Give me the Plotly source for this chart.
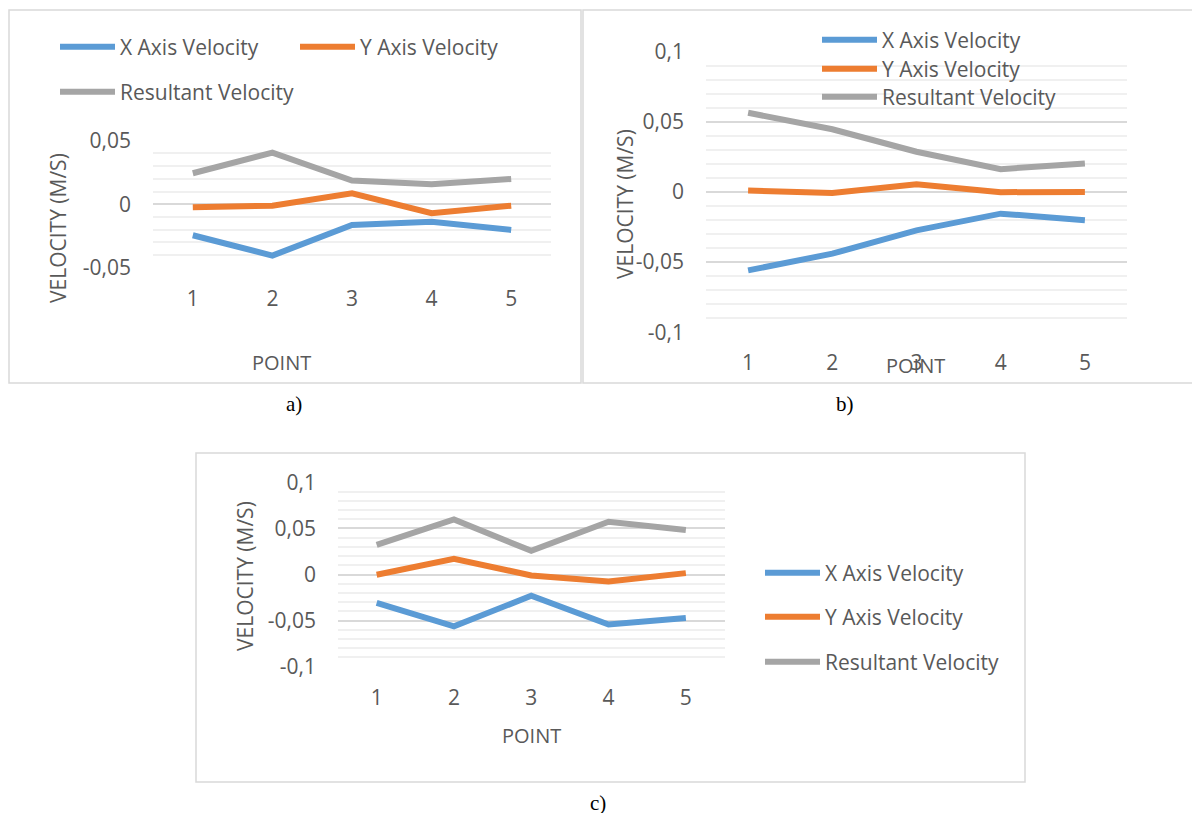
import plotly.graph_objects as go

# ---------------- data ----------------
points = [1, 2, 3, 4, 5]
series_names = ["X Axis Velocity", "Y Axis Velocity", "Resultant Velocity"]
series_colors = ["#5B9BD5", "#ED7D31", "#A5A5A5"]

a_x_vel = [-0.0244, -0.0404, -0.0163, -0.0137, -0.0202]
a_y_vel = [-0.0024, -0.0011, 0.0086, -0.0071, -0.0011]
a_res_vel = [0.0244, 0.0406, 0.0186, 0.0157, 0.0199]

b_x_vel = [-0.0559, -0.0440, -0.0274, -0.0155, -0.0202]
b_y_vel = [0.0010, -0.0007, 0.0055, -0.0002, 0.0000]
b_res_vel = [0.0564, 0.0446, 0.0286, 0.0162, 0.0203]

c_x_vel = [-0.0309, -0.0562, -0.0230, -0.0543, -0.0471]
c_y_vel = [-0.0003, 0.0170, -0.0010, -0.0075, 0.0015]
c_res_vel = [0.0321, 0.0598, 0.0256, 0.0572, 0.0483]

a_ytick_vals = [-0.05, 0, 0.05]
a_ytick_text = ["-0,05", "0", "0,05"]
bc_ytick_vals = [-0.1, -0.05, 0, 0.05, 0.1]
bc_ytick_text = ["-0,1", "-0,05", "0", "0,05", "0,1"]

y_title = "VELOCITY (M/S)"
x_title = "POINT"
captions = ["a)", "b)", "c)"]

# ---------------- helpers ----------------
W, H = 1200, 813
OFF = 8  # page body margin compensation
FONT = "Open Sans"
GREY_TXT = "#595959"


def px(x):
    return (x - OFF) / W


def py(y):
    return 1 - (y - OFF) / H


fig = go.Figure()

panels = [
    ("x", "y", [a_x_vel, a_y_vel, a_res_vel], ["legend", "legend2", "legend3"]),
    ("x2", "y2", [b_x_vel, b_y_vel, b_res_vel], ["legend4", "legend5", "legend6"]),
    ("x3", "y3", [c_x_vel, c_y_vel, c_res_vel], ["legend7", "legend8", "legend9"]),
]

for xa, ya, series, legs in panels:
    for name, color, vals, lg in zip(series_names, series_colors, series, legs):
        fig.add_trace(go.Scatter(
            x=points, y=vals, mode="lines", name=name,
            line=dict(color=color, width=6),
            xaxis=xa, yaxis=ya, legend=lg, hoverinfo="skip",
        ))

tickfont = dict(family=FONT, size=21, color=GREY_TXT)


def xaxis(domain, anchor):
    return dict(domain=domain, anchor=anchor, range=[0.5, 5.5], tickmode="array",
                tickvals=points, showgrid=False, zeroline=False, showline=False,
                ticks="", tickfont=tickfont, ticklabelstandoff=16, fixedrange=True,
                automargin=False)


def yaxis(domain, anchor, rng, vals, text):
    return dict(domain=domain, anchor=anchor, range=rng, tickmode="array",
                tickvals=vals, ticktext=text, showgrid=True, gridcolor="#D9D9D9",
                gridwidth=1.5, zeroline=False, showline=False, ticks="",
                tickfont=tickfont, ticklabelstandoff=21, fixedrange=True,
                automargin=False,
                minor=dict(tickmode="linear", tick0=0, dtick=0.01, showgrid=True,
                           gridcolor="#F0F0F0", gridwidth=1.5, ticks=""))


fig.update_layout(
    width=W, height=H, margin=dict(l=0, r=0, t=0, b=0, autoexpand=False),
    paper_bgcolor="white", plot_bgcolor="white",
    xaxis=xaxis([px(153), px(551)], "y"),
    yaxis=yaxis([py(267.8), py(140.7)], "x", [-0.05, 0.05], a_ytick_vals, a_ytick_text),
    xaxis2=xaxis([px(706), px(1127)], "y2"),
    yaxis2=yaxis([py(332.3), py(51.5)], "x2", [-0.1, 0.1], bc_ytick_vals, bc_ytick_text),
    xaxis3=xaxis([px(338), px(724.5)], "y3"),
    yaxis3=yaxis([py(666.7), py(482.3)], "x3", [-0.1, 0.1], bc_ytick_vals, bc_ytick_text),
    showlegend=True,
)

legfont = dict(family=FONT, size=21, color=GREY_TXT)
leg_pos = {
    "legend": (60, 47), "legend2": (300, 47), "legend3": (60, 92),
    "legend4": (822, 40), "legend5": (822, 69), "legend6": (822, 97),
    "legend7": (765, 573), "legend8": (765, 617), "legend9": (765, 662),
}
for key, (lx, ly) in leg_pos.items():
    fig.update_layout({key: dict(x=px(lx - 5), y=py(ly), xanchor="left", yanchor="middle",
                                 bgcolor="rgba(0,0,0,0)", font=legfont, borderwidth=0,
                                 itemwidth=55, itemclick=False, itemdoubleclick=False)})

# panel frames
for x0, y0, x1, y1 in [(9, 10, 581, 383), (583, 10, 1198, 383), (196, 453, 1025, 782)]:
    fig.add_shape(type="rect", xref="paper", yref="paper", x0=px(x0), x1=px(x1),
                  y0=py(y1), y1=py(y0), line=dict(color="#D9D9D9", width=1.5),
                  fillcolor="rgba(0,0,0,0)", layer="below")

ann_font = dict(family=FONT, size=21, color=GREY_TXT)
for (xc, yc) in [(58, 228), (625, 204), (245, 576)]:
    fig.add_annotation(text=y_title, x=px(xc), y=py(yc), xref="paper", yref="paper",
                       textangle=-90, showarrow=False, font=ann_font,
                       xanchor="center", yanchor="middle")
for (xc, yc) in [(281, 362), (915, 365), (531, 735)]:
    fig.add_annotation(text=x_title, x=px(xc), y=py(yc), xref="paper", yref="paper",
                       showarrow=False, font=dict(family=FONT, size=20, color=GREY_TXT),
                       xanchor="center", yanchor="middle")
for cap, (xc, yc) in zip(captions, [(294, 404), (845, 404), (598, 803)]):
    fig.add_annotation(text=cap, x=px(xc), y=py(yc), xref="paper", yref="paper",
                       showarrow=False, font=dict(family="Liberation Serif", size=21, color="black"),
                       xanchor="center", yanchor="middle")

fig.write_html("out.html")
